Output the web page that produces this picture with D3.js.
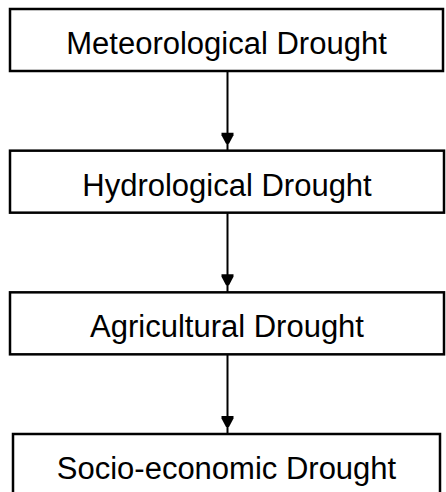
<!DOCTYPE html>
<html>
<head>
<meta charset="utf-8">
<script src="https://cdn.jsdelivr.net/npm/d3@7"></script>
<style>
  html, body { margin: 0; padding: 0; background: #fff; }
</style>
</head>
<body>
<div id="chart"></div>
<script>
// stages of drought, top to bottom
var stages = ["Meteorological Drought", "Hydrological Drought", "Agricultural Drought", "Socio-economic Drought"];
// links between stages (from -> to)
var links = [[0, 1], [1, 2], [2, 3]];

var width = 446, height = 492;
var boxH = 62;
// small horizontal inset per box (last box is a bit narrower)
var inset = [[10, 3], [10, 2], [10, 2], [13, 6]];

var svg = d3.select("#chart")
  .append("svg")
    .attr("width", width)
    .attr("height", height);

var y = d3.scalePoint()
  .domain(stages)
  .range([9, 434]);

var cx = 227.5;

// connectors
var arrows = svg.append("g");
links.forEach(function(l) {
  var y0 = y(stages[l[0]]) + boxH;
  var y1 = y(stages[l[1]]);
  arrows.append("line")
    .attr("x1", cx).attr("x2", cx)
    .attr("y1", y0).attr("y2", y1)
    .attr("stroke", "#000")
    .attr("stroke-width", 2);
  var tip = y1 - 7;
  // flat bar on top, then a blunt triangle
  arrows.append("path")
    .attr("d", "M" + (cx - 6) + "," + (tip - 11) + "L" + (cx + 6) + "," + (tip - 11) +
               "L" + (cx + 6) + "," + (tip - 8.5) + "L" + (cx + 1.5) + "," + tip +
               "L" + (cx - 1.5) + "," + tip +
               "L" + (cx - 6) + "," + (tip - 8.5) + "Z")
    .attr("fill", "#000");
});

// boxes
var node = svg.append("g")
  .selectAll("g")
  .data(stages)
  .enter()
  .append("g")
    .attr("transform", function(d) { return "translate(0," + y(d) + ")"; });

node.append("rect")
  .attr("x", function(d, i) { return inset[i][0]; })
  .attr("y", 0)
  .attr("width", function(d, i) { return width - inset[i][0] - inset[i][1]; })
  .attr("height", boxH)
  .attr("fill", "#fff")
  .attr("stroke", "#000")
  .attr("stroke-width", 2.5);

node.append("text")
  .attr("x", function(d, i) { return (inset[i][0] + width - inset[i][1]) / 2; })
  .attr("y", 45)
  .attr("text-anchor", "middle")
  .style("font-family", "'Liberation Sans', Arial, sans-serif")
  .style("font-size", "31px")
  .attr("fill", "#000")
  .text(function(d) { return d; });
</script>
</body>
</html>
